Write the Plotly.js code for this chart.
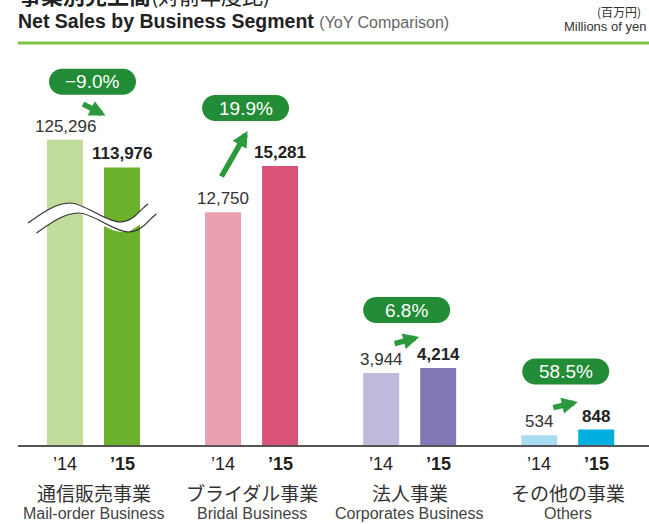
<!DOCTYPE html>
<html>
<head>
<meta charset="utf-8">
<script src="https://cdn.plot.ly/plotly-3.0.1.min.js"></script>
<style>html,body{margin:0;padding:0;background:#fff;}#chart{width:649px;height:524px;}</style>
</head>
<body>
<div id="chart"></div>
<script>
// ---- data ----
const segmentsJa = ['通信販売事業', 'ブライダル事業', '法人事業', 'その他の事業'];
const segmentsEn = ['Mail-order Business', 'Bridal Business', 'Corporates Business', 'Others'];
const yearLabels = ['’14', '’15'];
const sales14 = [125296, 12750, 3944, 534];
const sales15 = [113976, 15281, 4214, 848];
const yoyLabels = ['−9.0%', '19.9%', '6.8%', '58.5%'];
const brokenGroups = [0]; // drawn on a broken (compressed) scale

// ---- style ----
const colors14 = ['#c2dc9b', '#e9a1b1', '#bfb9dc', '#a8dcf1'];
const colors15 = ['#6cb12c', '#da5278', '#8278b6', '#00aee0'];
const pillGreen = '#228c36';
const arrowGreen = '#2a9a3c';
const LATIN = 'Liberation Sans, Arial, sans-serif';
const CJK = 'Noto Sans CJK JP, sans-serif';
const BAR_W = 0.2277, HALF_GAP = 0.1803;
const pillDx = [-1, -6, -3, -2];
// arrow tip offset (px from group centre / '15 bar top, up positive) and tail offset
const arrowTip = [[12, 52], [-4, 35], [9.5, 31], [10, 27.5]];
const arrowTail = [[-24, -12], [-27, 47], [-26, 7], [-26, 6]];

const n = segmentsJa.length;
const idx = [...Array(n).keys()];
const isBroken = i => brokenGroups.includes(i);
const yref = i => isBroken(i) ? 'y2' : 'y';

function traceFor(values, colors, offset, broken) {
  const sel = idx.filter(i => isBroken(i) === broken);
  return {
    type: 'bar', x: sel, y: sel.map(i => values[i]),
    marker: {color: sel.map(i => colors[i]), line: {width: 0}},
    width: BAR_W, offset: offset, yaxis: broken ? 'y2' : 'y',
    hoverinfo: 'skip', showlegend: false
  };
}

const data = [
  traceFor(sales14, colors14, -HALF_GAP - BAR_W / 2, false),
  traceFor(sales15, colors15, HALF_GAP - BAR_W / 2, false),
  traceFor(sales14, colors14, -HALF_GAP - BAR_W / 2, true),
  traceFor(sales15, colors15, HALF_GAP - BAR_W / 2, true)
];

const annotations = [];
const shapes = [];

idx.forEach(i => {
  // value labels
  annotations.push({x: i - HALF_GAP, y: sales14[i], xref: 'x', yref: yref(i), yanchor: 'bottom', yshift: 2,
    text: sales14[i].toLocaleString('en-US'), showarrow: false, font: {family: LATIN, size: 17, color: '#333'}});
  annotations.push({x: i + HALF_GAP, y: sales15[i], xref: 'x', yref: yref(i), yanchor: 'bottom', yshift: 2,
    text: '<b>' + sales15[i].toLocaleString('en-US') + '</b>', showarrow: false, font: {family: LATIN, size: 17, color: '#222'}});
  // year labels
  annotations.push({x: i - HALF_GAP, y: 0, xref: 'x', yref: 'paper', yanchor: 'middle', yshift: -19,
    text: yearLabels[0], showarrow: false, font: {family: LATIN, size: 18, color: '#222'}});
  annotations.push({x: i + HALF_GAP, y: 0, xref: 'x', yref: 'paper', yanchor: 'middle', yshift: -19,
    text: '<b>' + yearLabels[1] + '</b>', showarrow: false, font: {family: LATIN, size: 18, color: '#222'}});
  // category labels
  annotations.push({x: i, y: 0, xref: 'x', yref: 'paper', yanchor: 'middle', yshift: -47,
    text: segmentsJa[i], showarrow: false, font: {family: CJK, size: 19, color: '#333'}});
  annotations.push({x: i, y: 0, xref: 'x', yref: 'paper', yanchor: 'middle', yshift: -68,
    text: segmentsEn[i], showarrow: false, font: {family: LATIN, size: 16, color: '#444'}});

  // pill (rounded rectangle) + percentage text
  const top = Math.max(sales14[i], sales15[i]);
  const cx = pillDx[i], cy = 58, hw = 43.5, hh = 13, k = hh * 0.5523;
  const L = cx - hw + hh, R = cx + hw - hh;
  const p = `M ${L},${cy + hh} L ${R},${cy + hh} C ${R + k},${cy + hh} ${R + hh},${cy + k} ${R + hh},${cy} ` +
            `C ${R + hh},${cy - k} ${R + k},${cy - hh} ${R},${cy - hh} L ${L},${cy - hh} ` +
            `C ${L - k},${cy - hh} ${L - hh},${cy - k} ${L - hh},${cy} C ${L - hh},${cy + k} ${L - k},${cy + hh} ${L},${cy + hh} Z`;
  shapes.push({type: 'path', xref: 'x', yref: yref(i), xsizemode: 'pixel', ysizemode: 'pixel',
    xanchor: i, yanchor: top, path: p, fillcolor: pillGreen, line: {width: 0}, layer: 'above'});
  annotations.push({x: i, y: top, xref: 'x', yref: yref(i), xshift: cx, yshift: cy, yanchor: 'middle',
    text: yoyLabels[i], showarrow: false, font: {family: LATIN, size: 19, color: '#ffffff'}});

  // arrow
  annotations.push({x: i, y: sales15[i], xref: 'x', yref: yref(i), xshift: arrowTip[i][0], yshift: arrowTip[i][1],
    text: '', showarrow: true, arrowhead: 2, arrowsize: 0.58, arrowwidth: 5.5, arrowcolor: arrowGreen,
    ax: arrowTail[i][0], ay: arrowTail[i][1], standoff: 0});
});

// broken-axis wave on the compressed group(s); offsets in px from group centre / baseline (screen coords, y down)
function waveSeg(x0, y0) {
  const pt = (dx, dy) => `${x0 + dx},${-(y0 + dy)}`;
  return [pt(0, 0), pt(14, -10), pt(28, -20), pt(42, -20), pt(78, -1), pt(92, -1), pt(112, -14), pt(120, -19)];
}
brokenGroups.forEach(i => {
  const t = waveSeg(-65.5, -222), b = waveSeg(-57, -212);
  const top = `M ${t[0]} C ${t[1]} ${t[2]} ${t[3]} S ${t[4]} ${t[5]} S ${t[6]} ${t[7]}`;
  const bot = `M ${b[0]} C ${b[1]} ${b[2]} ${b[3]} S ${b[4]} ${b[5]} S ${b[6]} ${b[7]}`;
  const fill = `M ${t[0]} C ${t[1]} ${t[2]} ${t[3]} S ${t[4]} ${t[5]} S ${t[6]} ${t[7]} ` +
               `L ${b[7]} C ${b[6]} ${b[6]} ${b[5]} C ${b[4]} ${b[4]} ${b[3]} C ${b[2]} ${b[1]} ${b[0]} Z`;
  const common = {type: 'path', xref: 'x', yref: 'y2', xsizemode: 'pixel', ysizemode: 'pixel', xanchor: i, yanchor: 0, layer: 'above'};
  shapes.push(Object.assign({}, common, {path: fill, fillcolor: '#ffffff', line: {width: 0}}));
  shapes.push(Object.assign({}, common, {path: top, line: {color: '#333', width: 1.2}}));
  shapes.push(Object.assign({}, common, {path: bot, line: {color: '#333', width: 1.2}}));
});

// header rule
shapes.push({type: 'line', xref: 'paper', yref: 'paper', x0: 0, x1: 1, ysizemode: 'pixel', yanchor: 1, y0: -43, y1: -43,
  line: {color: '#80c342', width: 3}});

// titles
annotations.push({xref: 'paper', yref: 'paper', x: 0, y: 1, xanchor: 'left', yanchor: 'middle', yshift: 6, xshift: -1,
  text: '<b>事業別売上高</b><span style="font-size:21px">(対前年度比)</span>', showarrow: false,
  font: {family: CJK, size: 22, color: '#222'}});
annotations.push({xref: 'paper', yref: 'paper', x: 0, y: 1, xanchor: 'left', yanchor: 'middle', yshift: -21, xshift: -2,
  text: '<b>Net Sales by Business Segment</b> <span style="font-size:16px;color:#666">(YoY Comparison)</span>',
  showarrow: false, font: {family: LATIN, size: 19.5, color: '#222'}});
annotations.push({xref: 'paper', yref: 'paper', x: 1, y: 1, xanchor: 'right', yanchor: 'middle', yshift: -11.5, xshift: -6,
  text: '(百万円)', showarrow: false, font: {family: CJK, size: 12, color: '#333'}});
annotations.push({xref: 'paper', yref: 'paper', x: 1, y: 1, xanchor: 'right', yanchor: 'middle', yshift: -26.5, xshift: -1,
  text: 'Millions of yen', showarrow: false, font: {family: LATIN, size: 13, color: '#333'}});

const layout = {
  width: 649, height: 524,
  margin: {l: 18, r: 0, t: 0, b: 79},
  paper_bgcolor: '#fff', plot_bgcolor: '#fff',
  barmode: 'overlay',
  xaxis: {range: [-0.4776, 3.514], showgrid: false, zeroline: false, showticklabels: false, ticks: '',
          showline: true, linecolor: '#555', linewidth: 1.5, fixedrange: true},
  yaxis: {range: [0, 24373], visible: false, showgrid: false, zeroline: false, fixedrange: true},
  yaxis2: {range: [0, 182706], overlaying: 'y', visible: false, showgrid: false, zeroline: false, fixedrange: true},
  annotations: annotations, shapes: shapes,
  showlegend: false
};

Plotly.newPlot('chart', data, layout, {displayModeBar: false, staticPlot: true});
</script>
</body>
</html>
